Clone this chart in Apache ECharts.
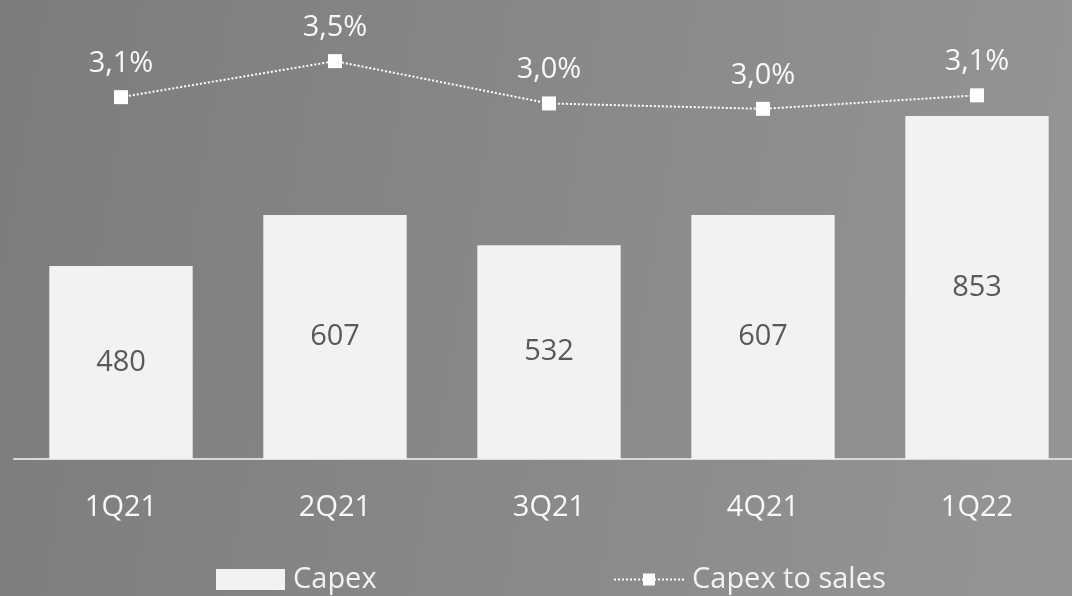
<!DOCTYPE html>
<html>
<head>
<meta charset="utf-8">
<script src="https://cdn.jsdelivr.net/npm/echarts@6/dist/echarts.min.js"></script>
<style>
html,body{margin:0;padding:0;overflow:hidden;width:1072px;height:596px;}
#chart{width:1086px;height:596px;}
</style>
</head>
<body>
<div id="chart"></div>
<script>
var categories = ['1Q21', '2Q21', '3Q21', '4Q21', '1Q22'];
var capex = [480, 607, 532, 607, 853];
var capexToSales = [3.10, 3.50, 3.03, 2.97, 3.12];
var seriesNames = ['Capex', 'Capex to sales'];

var FONT = 'Open Sans';
var chart = echarts.init(document.getElementById('chart'), null, {renderer: 'canvas'});
chart.setOption({
  backgroundColor: new echarts.graphic.LinearGradient(0, 0, 1, 0.3, [
    {offset: 0, color: '#7c7c7c'},
    {offset: 1, color: '#949494'}
  ]),
  animation: false,
  textStyle: {fontFamily: FONT},
  grid: {left: 14, width: 1070, top: 57, height: 402, containLabel: false},
  legend: [
    {
      data: [seriesNames[0]],
      left: 216, top: 565, padding: 0,
      itemWidth: 69, itemHeight: 21,
      textStyle: {color: '#f2f2f2', fontSize: 29, fontFamily: FONT, padding: [0, 0, 0, 3]},
      icon: 'rect'
    },
    {
      data: [seriesNames[1]],
      left: 613, top: 565, padding: 0,
      itemWidth: 70, itemHeight: 15,
      textStyle: {color: '#f2f2f2', fontSize: 29, fontFamily: FONT, padding: [0, 0, 0, 3]}
    }
  ],
  xAxis: {
    type: 'category',
    data: categories,
    axisLine: {show: true, lineStyle: {color: '#d9d9d9', width: 2}},
    axisTick: {show: false},
    axisLabel: {color: '#f8f8f8', fontSize: 29, fontFamily: FONT, margin: 34},
    splitLine: {show: false}
  },
  yAxis: [
    {type: 'value', min: 0, max: 1000, show: false},
    {type: 'value', min: -0.92, max: 3.546, show: false}
  ],
  series: [
    {
      name: seriesNames[0],
      type: 'bar',
      data: capex,
      yAxisIndex: 0,
      barWidth: '67%',
      itemStyle: {color: '#f2f2f2'},
      label: {
        show: true, position: 'inside',
        color: '#595959', fontSize: 29, fontFamily: FONT
      }
    },
    {
      name: seriesNames[1],
      type: 'line',
      data: capexToSales,
      yAxisIndex: 1,
      symbol: 'rect',
      symbolSize: 14,
      itemStyle: {color: '#ffffff'},
      lineStyle: {color: '#ffffff', width: 2, type: [2, 2]},
      label: {
        show: true, position: 'top', distance: 12,
        color: '#f8f8f8', fontSize: 29, fontFamily: FONT,
        formatter: function (p) { return p.value.toFixed(1).replace('.', ',') + '%'; }
      }
    }
  ]
});
</script>
</body>
</html>
